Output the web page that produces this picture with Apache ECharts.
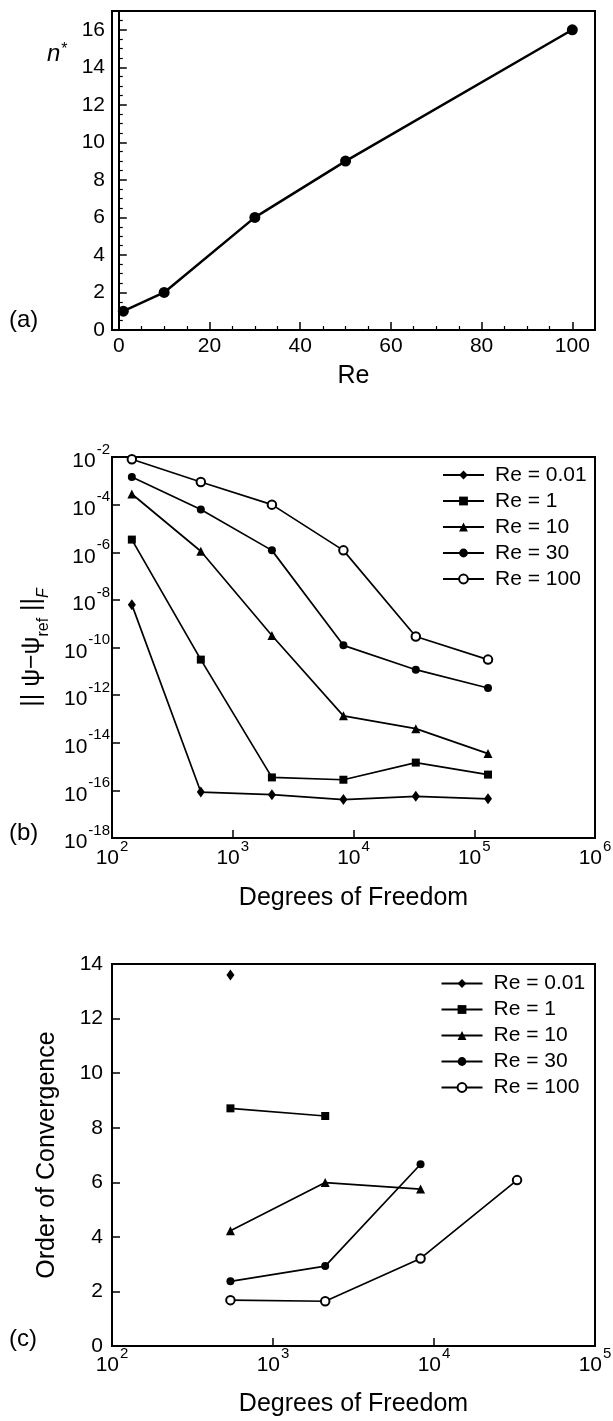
<!DOCTYPE html>
<html><head><meta charset="utf-8">
<script src="https://cdn.jsdelivr.net/npm/echarts@6/dist/echarts.min.js"></script>
<style>html,body{margin:0;padding:0;background:#fff}#c{width:613px;height:1421px}</style>
</head><body><div id="c"></div>
<script>
// ---------- Panel (a) ----------
const reA = [1, 10, 30, 50, 100];
const nStar = [1, 2, 6, 9, 16];
const aXTicks = [0, 20, 40, 60, 80, 100];
const aXMinor = [5, 10, 15, 25, 30, 35, 45, 50, 55, 65, 70, 75, 85, 90, 95];
const aYTicks = [0, 2, 4, 6, 8, 10, 12, 14, 16];
const aYMinor = [0.5, 1, 1.5, 2.5, 3, 3.5, 4.5, 5, 5.5, 6.5, 7, 7.5, 8.5, 9, 9.5, 10.5, 11, 11.5, 12.5, 13, 13.5, 14.5, 15, 15.5, 16.5];
// ---------- Panel (b) ----------
const dof = [146, 544, 2110, 8250, 32800, 130000];
const errRe001 = [6.3e-9, 8.5e-17, 6.6e-17, 4.1e-17, 5.6e-17, 4.4e-17];
const errRe1 = [3.4e-6, 3.1e-11, 3.5e-16, 2.8e-16, 1.47e-15, 4.6e-16];
const errRe10 = [2.8e-4, 1.1e-6, 3.2e-10, 1.35e-13, 3.9e-14, 3.5e-15];
const errRe30 = [1.45e-3, 6.2e-5, 1.2e-6, 1.23e-10, 1.17e-11, 2.0e-12];
const errRe100 = [8.0e-3, 8.9e-4, 1.0e-4, 1.2e-6, 2.9e-10, 3.1e-11];
// ---------- Panel (c) ----------
const ordRe001 = [13.6];
const ordRe1 = [8.71, 8.43];
const ordRe10 = [4.22, 5.99, 5.75];
const ordRe30 = [2.37, 2.93, 6.66];
const ordRe100 = [1.68, 1.64, 3.21, 6.08];
const legendNames = ['Re = 0.01', 'Re = 1', 'Re = 10', 'Re = 30', 'Re = 100'];

const FONT = "'Liberation Sans', Arial, Helvetica, sans-serif";
const BLACK = '#000';
const symbols = [
  {symbol: 'diamond', symbolSize: [8, 11]},
  {symbol: 'rect', symbolSize: 8},
  {symbol: 'triangle', symbolSize: 9},
  {symbol: 'circle', symbolSize: 8},
  {symbol: 'emptyCircle', symbolSize: 8.5}
];

const logRich = {
  b: {fontSize: 21, lineHeight: 30, fontFamily: FONT, color: BLACK, verticalAlign: 'bottom'},
  s: {fontSize: 15, lineHeight: 15, fontFamily: FONT, color: BLACK, verticalAlign: 'top', padding: [0, 0, 0, 1]}
};
function logFmt(v) {
  const e = Math.round(Math.log10(v));
  return '{b|10}{s|' + e + '}';
}
const axisLine = {show: true, lineStyle: {color: BLACK, width: 2}};
const tick = {show: true, inside: true, length: 8, lineStyle: {color: BLACK, width: 1.5}};
const nameStyle = {fontSize: 25, fontFamily: FONT, color: BLACK};

function gridBox(top, height) {
  return {left: 112, width: 483, top: top, height: height, show: true, borderColor: BLACK, borderWidth: 2,
          backgroundColor: 'transparent', containLabel: false, outerBoundsMode: 'none'};
}

const series = [];
// panel a
series.push({
  type: 'line', xAxisIndex: 0, yAxisIndex: 0,
  data: reA.map((r, i) => [r, nStar[i]]),
  symbol: 'circle', symbolSize: 11,
  lineStyle: {color: BLACK, width: 2.5}, itemStyle: {color: BLACK},
  silent: true
});
// panel b
const errSets = [errRe001, errRe1, errRe10, errRe30, errRe100];
errSets.forEach((arr, k) => {
  series.push(Object.assign({
    type: 'line', name: legendNames[k], xAxisIndex: 2, yAxisIndex: 2,
    data: arr.map((v, i) => [dof[i], v]),
    lineStyle: {color: BLACK, width: 1.7},
    itemStyle: {color: BLACK, borderColor: BLACK, borderWidth: k === 4 ? 1.3 : 0},
    silent: true
  }, symbols[k]));
});
// panel c
const ordSets = [ordRe001, ordRe1, ordRe10, ordRe30, ordRe100];
ordSets.forEach((arr, k) => {
  series.push(Object.assign({
    type: 'line', name: legendNames[k], xAxisIndex: 3, yAxisIndex: 3,
    data: arr.map((v, i) => [dof[i + 1], v]),
    lineStyle: {color: BLACK, width: 1.7},
    itemStyle: {color: BLACK, borderColor: BLACK, borderWidth: k === 4 ? 1.3 : 0},
    silent: true
  }, symbols[k]));
});

function legendAt(left, top) {
  return {
    left: left, top: top, orient: 'vertical', padding: 0, itemGap: 5,
    itemWidth: 41, itemHeight: 11, selectedMode: false, data: legendNames,
    textStyle: {fontSize: 21, lineHeight: 21, fontFamily: FONT, color: BLACK, padding: [0, 0, 0, 6]}
  };
}

const option = {
  animation: false,
  backgroundColor: '#fff',
  textStyle: {fontFamily: FONT},
  grid: [gridBox(11, 319), gridBox(457, 381), gridBox(964, 382)],
  legend: [legendAt(442, 464.5), legendAt(440.5, 973)],
  xAxis: [
    {gridIndex: 0, type: 'value', position: 'bottom', min: -1.5, max: 105,
     axisLine: axisLine, axisTick: Object.assign({customValues: aXTicks}, tick),
     axisLabel: {customValues: aXTicks, fontSize: 21, fontFamily: FONT, color: BLACK, margin: 6},
     splitLine: {show: false},
     name: 'Re', nameLocation: 'middle', nameGap: 34, nameTextStyle: nameStyle, nameMoveOverlap: false},
    {gridIndex: 0, type: 'value', position: 'bottom', min: -1.5, max: 105,
     axisLine: {show: false}, axisTick: {show: true, inside: true, length: 4, customValues: aXMinor, lineStyle: {color: BLACK, width: 1.2}},
     axisLabel: {show: false, customValues: aXMinor}, splitLine: {show: false}},
    {gridIndex: 1, type: 'log', logBase: 10, min: 100, max: 1e6, interval: 1,
     axisLine: axisLine, axisTick: tick,
     axisLabel: {formatter: logFmt, rich: logRich, margin: 1},
     splitLine: {show: false}, minorTick: {show: false},
     name: 'Degrees of Freedom', nameLocation: 'middle', nameGap: 48, nameTextStyle: nameStyle, nameMoveOverlap: false},
    {gridIndex: 2, type: 'log', logBase: 10, min: 100, max: 1e5, interval: 1,
     axisLine: axisLine, axisTick: tick,
     axisLabel: {formatter: logFmt, rich: logRich, margin: 0},
     splitLine: {show: false},
     name: 'Degrees of Freedom', nameLocation: 'middle', nameGap: 46, nameTextStyle: nameStyle, nameMoveOverlap: false}
  ],
  yAxis: [
    {gridIndex: 0, type: 'value', position: 'left', min: 0, max: 17,
     axisLine: axisLine, axisTick: Object.assign({customValues: aYTicks}, tick),
     axisLabel: {customValues: aYTicks, fontSize: 21, fontFamily: FONT, color: BLACK, margin: 7},
     splitLine: {show: false}},
    {gridIndex: 0, type: 'value', position: 'left', min: 0, max: 17,
     axisLine: {show: false}, axisTick: {show: true, inside: true, length: 4, customValues: aYMinor, lineStyle: {color: BLACK, width: 1.2}},
     axisLabel: {show: false, customValues: aYMinor}, splitLine: {show: false}},
    {gridIndex: 1, type: 'log', logBase: 10, min: 1e-18, max: 1e-2, interval: 2,
     axisLine: axisLine, axisTick: tick,
     axisLabel: {formatter: logFmt, rich: logRich, margin: 2},
     splitLine: {show: false},
     name: '{n||| ψ−ψ}{sub|ref}{n| ||}{subI|F}', nameLocation: 'middle', nameGap: 60, nameRotate: 90, nameMoveOverlap: false,
     nameTextStyle: {fontSize: 25, fontFamily: FONT, color: BLACK, rich: {
       n: {fontSize: 25, lineHeight: 32, fontFamily: FONT, color: BLACK, verticalAlign: 'top'},
       sub: {fontSize: 16, lineHeight: 16, fontFamily: FONT, color: BLACK, verticalAlign: 'bottom'},
       subI: {fontSize: 16, lineHeight: 16, fontFamily: FONT, color: BLACK, fontStyle: 'italic', verticalAlign: 'bottom'}
     }}},
    {gridIndex: 2, type: 'value', min: 0, max: 14, interval: 2,
     axisLine: axisLine, axisTick: tick,
     axisLabel: {fontSize: 21, fontFamily: FONT, color: BLACK, margin: 9},
     splitLine: {show: false},
     name: 'Order of Convergence', nameLocation: 'middle', nameGap: 52, nameRotate: 90, nameTextStyle: nameStyle, nameMoveOverlap: false}
  ],
  graphic: [
    {type: 'text', left: 47, top: 42, silent: true,
     style: {text: '{i|n}{s|*}', rich: {
       i: {fontSize: 24, fontStyle: 'italic', fontFamily: FONT, fill: BLACK, color: BLACK, verticalAlign: 'bottom', lineHeight: 24},
       s: {fontSize: 16, fontFamily: FONT, fill: BLACK, color: BLACK, verticalAlign: 'top', lineHeight: 20, padding: [0, 0, 0, 1]}
     }}},
    {type: 'text', left: 9, top: 308, silent: true, style: {text: '(a)', font: "24px " + FONT, fill: BLACK}},
    {type: 'text', left: 9, top: 821, silent: true, style: {text: '(b)', font: "24px " + FONT, fill: BLACK}},
    {type: 'text', left: 9, top: 1327, silent: true, style: {text: '(c)', font: "24px " + FONT, fill: BLACK}}
  ],
  series: series
};
const chart = echarts.init(document.getElementById('c'), null, {renderer: 'canvas'});
chart.setOption(option);
</script></body></html>
